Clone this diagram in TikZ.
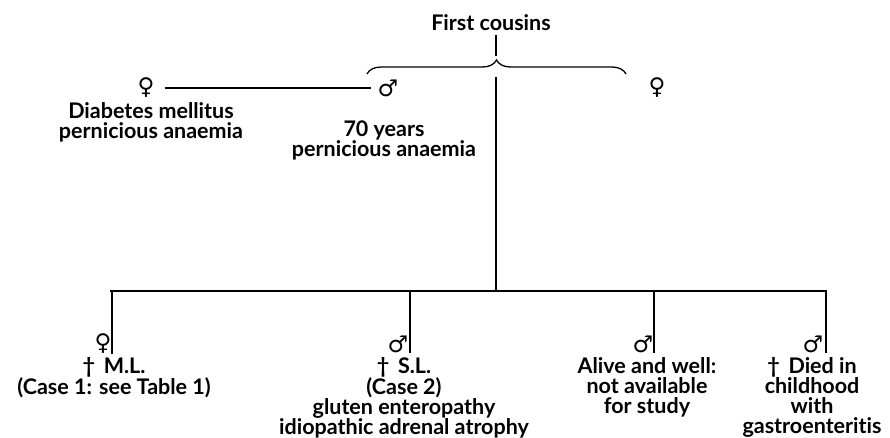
\documentclass[tikz,border=0pt]{standalone}
\usepackage{fontspec}
\setmainfont{Lato}[Ligatures=NoCommon]
\newfontfamily\symfont{DejaVu Sans}
\usetikzlibrary{decorations.pathreplacing, positioning}

\begin{document}
\begin{tikzpicture}[x=1pt, y=-1pt]
  \tikzstyle{lbl}=[align=center, font=\fontsize{21.5}{20}\selectfont\bfseries, inner sep=0pt]
  \tikzstyle{sex}=[font=\fontsize{23}{20}\selectfont\symfont, inner sep=0pt]
  \tikzstyle{ln}=[line width=1.3pt]
  \useasboundingbox (0,0) rectangle (890,438);
  \node[lbl] (fc) at (491,23) {First cousins};
  \coordinate (tip) at (496,58);
  \coordinate (bl) at (367,74);
  \coordinate (br) at (626,74);
  \draw[ln, decorate, decoration={brace, amplitude=14pt}] (bl) -- (br);
  \draw[ln, shorten <=4pt, shorten >=2pt] (fc.south -| tip) -- (tip);
  \node[sex] (wife) at (146,88) {♀};
  \node[sex] (husb) at (388,88) {♂};
  \node[sex] (cous) at (657,88) {♀};
  \node[lbl, anchor=north] (wifetxt) at (151,102) {Diabetes mellitus\\pernicious anaemia};
  \node[lbl, anchor=north] (husbtxt) at (384,121) {70 years\\pernicious anaemia};
  \draw[ln, shorten <=10pt, shorten >=6pt] (wife.east) -- (husb.west);
  \coordinate (top) at (496,77);
  \coordinate (mid) at (496,291);
  \draw[ln] (top) -- (mid);
  \coordinate (sibl) at (110,291);
  \coordinate (sibr) at (827,291);
  \draw[ln] (sibl) -- (sibr);
  \node[sex] (m1) at (103,344) {♀};
  \node[sex] (m2) at (398,344) {♂};
  \node[sex] (m3) at (643,344) {♂};
  \node[sex] (m4) at (813,344) {♂};
  \node[lbl, anchor=north] (t1) at (114,357) {†\, M.L.\\(Case 1: see Table 1)};
  \node[lbl, anchor=north] (t2) at (404,357) {†\, S.L.\\(Case 2)\\gluten enteropathy\\idiopathic adrenal atrophy};
  \node[lbl, anchor=north] (t3) at (647,357) {Alive and well:\\not available\\for study};
  \node[lbl, anchor=north] (t4) at (812,357) {†\, Died in\\childhood\\with\\gastroenteritis};
  \coordinate (d1) at (112,291);
  \coordinate (d2) at (410,291);
  \coordinate (d3) at (654,291);
  \coordinate (d4) at (826,291);
  \draw[ln] (d1) -- (d1 |- m1.south);
  \draw[ln] (d2) -- (d2 |- m2.south);
  \draw[ln] (d3) -- (d3 |- m3.south);
  \draw[ln] (d4) -- (d4 |- m4.south);
\end{tikzpicture}
\end{document}
